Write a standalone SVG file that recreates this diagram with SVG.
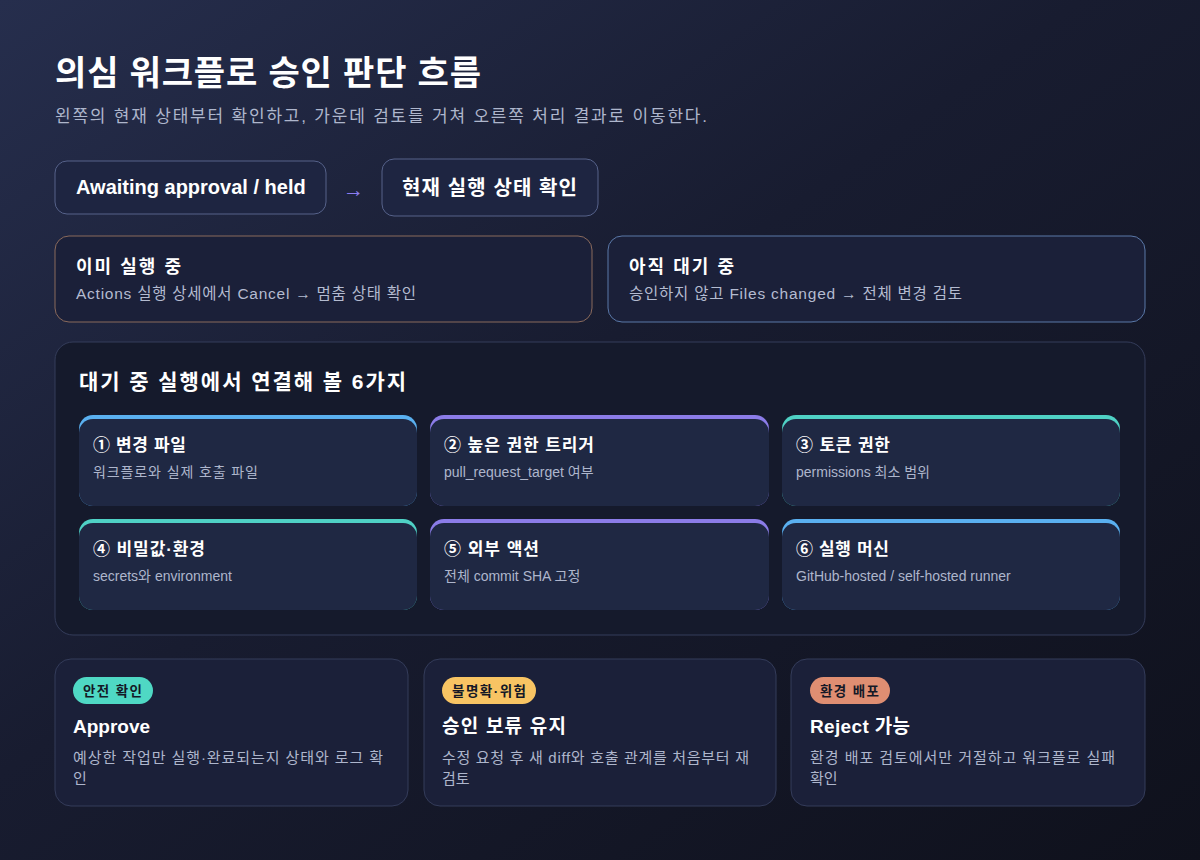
<svg xmlns="http://www.w3.org/2000/svg" width="1200" height="860" viewBox="0 0 1200 860">
<defs>
<linearGradient id="bg" x1="0" y1="0" x2="1" y2="1">
<stop offset="0" stop-color="#262e4d"/>
<stop offset="0.45" stop-color="#181c30"/>
<stop offset="1" stop-color="#0f111c"/>
</linearGradient>
<style>
text{font-family:"Liberation Sans","Noto Sans CJK KR",sans-serif}
.h1{font-size:34px;font-weight:700;fill:#ffffff}
.sub{font-size:17px;fill:#aeb6cc}
.box{fill:#1e2541;stroke:#56628a;stroke-width:1}
.pill{font-size:20px;font-weight:700;fill:#ffffff}
.st{font-size:18px;font-weight:700;fill:#ffffff}
.sd{font-size:15.5px;fill:#b4bbd0}
.panel{fill:#151a2c;stroke:#343c5a;stroke-width:1}
.ptitle{font-size:21px;font-weight:700;fill:#ffffff}
.card{fill:#1f2843}
.ct{font-size:17px;font-weight:700;fill:#ffffff}
.cd{font-size:14px;fill:#aeb6cc}
.out{fill:#1b2039;stroke:#343c5a;stroke-width:1}
.badge{font-size:13.5px;font-weight:700;fill:#141826}
.ot{font-size:19px;font-weight:700;fill:#ffffff}
.od{font-size:15px;fill:#aeb6cc}
</style>
</defs>
<rect width="1200" height="860" fill="url(#bg)"/>
<text class="h1" x="55" y="85" textLength="426" lengthAdjust="spacing">의심 워크플로 승인 판단 흐름</text>
<text class="sub" x="55" y="122" textLength="652" lengthAdjust="spacing">왼쪽의 현재 상태부터 확인하고, 가운데 검토를 거쳐 오른쪽 처리 결과로 이동한다.</text>

<g id="connectors">
<text x="343" y="197" font-size="21" fill="#8b7cf0">→</text>
</g>

<g id="node-awaiting">
<rect class="box" x="55" y="161" width="271" height="53" rx="12"/>
<text class="pill" x="76" y="194">Awaiting approval / held</text>
</g>
<g id="node-check">
<rect class="box" x="382" y="159" width="216" height="57" rx="12"/>
<text class="pill" x="402" y="195" textLength="175" lengthAdjust="spacing">현재 실행 상태 확인</text>
</g>

<g id="node-running">
<rect x="55" y="236" width="537" height="86" rx="14" fill="#1b2039" stroke="#8a6a5c" stroke-width="1"/>
<text class="st" x="76" y="273" textLength="105" lengthAdjust="spacing">이미 실행 중</text>
<text class="sd" x="76" y="299" textLength="340" lengthAdjust="spacing">Actions 실행 상세에서 Cancel → 멈춤 상태 확인</text>
</g>
<g id="node-waiting">
<rect x="608" y="236" width="537" height="86" rx="14" fill="#1b2039" stroke="#5a78a8" stroke-width="1"/>
<text class="st" x="629" y="273" textLength="105" lengthAdjust="spacing">아직 대기 중</text>
<text class="sd" x="629" y="299" textLength="333" lengthAdjust="spacing">승인하지 않고 Files changed → 전체 변경 검토</text>
</g>

<g id="panel-six">
<rect class="panel" x="55" y="342" width="1090" height="293" rx="18"/>
<text class="ptitle" x="79" y="389" textLength="327" lengthAdjust="spacing">대기 중 실행에서 연결해 볼 6가지</text>
</g>

<g id="card-1">
<rect x="79" y="415" width="338" height="91" rx="14" fill="#5ab0f0"/>
<rect class="card" x="79" y="419" width="338" height="87" rx="14"/>
<text class="ct" x="93" y="451" textLength="93" lengthAdjust="spacing">① 변경 파일</text>
<text class="cd" x="93" y="477" textLength="165" lengthAdjust="spacing">워크플로와 실제 호출 파일</text>
</g>
<g id="card-2">
<rect x="430" y="415" width="339" height="91" rx="14" fill="#8b7ce8"/>
<rect class="card" x="430" y="419" width="339" height="87" rx="14"/>
<text class="ct" x="444" y="451" textLength="150" lengthAdjust="spacing">② 높은 권한 트리거</text>
<text class="cd" x="444" y="477">pull_request_target 여부</text>
</g>
<g id="card-3">
<rect x="782" y="415" width="338" height="91" rx="14" fill="#4fd1c5"/>
<rect class="card" x="782" y="419" width="338" height="87" rx="14"/>
<text class="ct" x="796" y="451" textLength="94" lengthAdjust="spacing">③ 토큰 권한</text>
<text class="cd" x="796" y="477">permissions 최소 범위</text>
</g>
<g id="card-4">
<rect x="79" y="519" width="338" height="91" rx="14" fill="#4fd1c5"/>
<rect class="card" x="79" y="523" width="338" height="87" rx="14"/>
<text class="ct" x="93" y="555" textLength="112" lengthAdjust="spacing">④ 비밀값·환경</text>
<text class="cd" x="93" y="581">secrets와 environment</text>
</g>
<g id="card-5">
<rect x="430" y="519" width="339" height="91" rx="14" fill="#8b7ce8"/>
<rect class="card" x="430" y="523" width="339" height="87" rx="14"/>
<text class="ct" x="444" y="555" textLength="95" lengthAdjust="spacing">⑤ 외부 액션</text>
<text class="cd" x="444" y="581">전체 commit SHA 고정</text>
</g>
<g id="card-6">
<rect x="782" y="519" width="338" height="91" rx="14" fill="#5ab0f0"/>
<rect class="card" x="782" y="523" width="338" height="87" rx="14"/>
<text class="ct" x="796" y="555" textLength="93" lengthAdjust="spacing">⑥ 실행 머신</text>
<text class="cd" x="796" y="581">GitHub-hosted / self-hosted runner</text>
</g>

<g id="out-approve">
<rect class="out" x="55" y="659" width="353" height="147" rx="16"/>
<rect x="73" y="677" width="80" height="27" rx="13.5" fill="#4fd8c4"/>
<text class="badge" x="83" y="696" textLength="59" lengthAdjust="spacing">안전 확인</text>
<text class="ot" x="73" y="733">Approve</text>
<text class="od" x="73" y="763" textLength="310" lengthAdjust="spacing">예상한 작업만 실행·완료되는지 상태와 로그 확</text>
<text class="od" x="73" y="784">인</text>
</g>
<g id="out-hold">
<rect class="out" x="424" y="659" width="352" height="147" rx="16"/>
<rect x="442" y="677" width="94" height="27" rx="13.5" fill="#f8c463"/>
<text class="badge" x="452" y="696" textLength="74" lengthAdjust="spacing">불명확·위험</text>
<text class="ot" x="442" y="733" textLength="124" lengthAdjust="spacing">승인 보류 유지</text>
<text class="od" x="442" y="763" textLength="307" lengthAdjust="spacing">수정 요청 후 새 diff와 호출 관계를 처음부터 재</text>
<text class="od" x="442" y="784">검토</text>
</g>
<g id="out-reject">
<rect class="out" x="791" y="659" width="354" height="147" rx="16"/>
<rect x="810" y="677" width="80" height="27" rx="13.5" fill="#df8e72"/>
<text class="badge" x="820" y="696" textLength="59" lengthAdjust="spacing">환경 배포</text>
<text class="ot" x="810" y="733" textLength="100" lengthAdjust="spacing">Reject 가능</text>
<text class="od" x="810" y="763" textLength="305" lengthAdjust="spacing">환경 배포 검토에서만 거절하고 워크플로 실패</text>
<text class="od" x="810" y="784">확인</text>
</g>
</svg>
